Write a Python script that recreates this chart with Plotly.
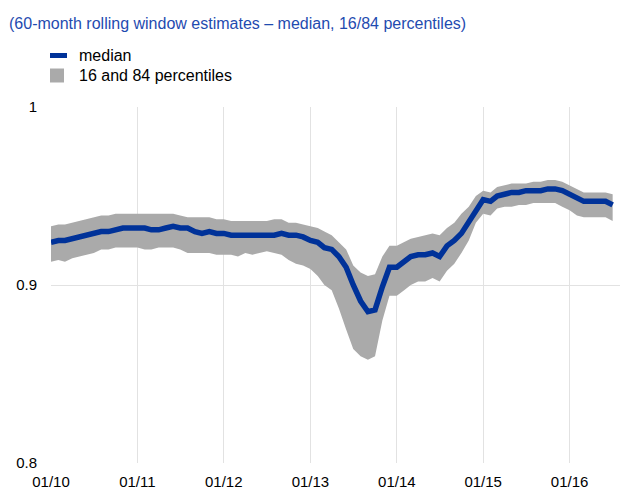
import plotly.graph_objects as go
import pandas as pd

months = pd.date_range("2010-01-01", periods=79, freq="MS").strftime("%Y-%m-%d").tolist()

median = [0.924, 0.925, 0.925, 0.926, 0.927, 0.928, 0.929, 0.930, 0.930, 0.931, 0.932, 0.932,
          0.932, 0.932, 0.931, 0.931, 0.932, 0.933, 0.932, 0.932, 0.930, 0.929, 0.930, 0.929,
          0.929, 0.928, 0.928, 0.928, 0.928, 0.928, 0.928, 0.928, 0.929, 0.928, 0.928, 0.927,
          0.925, 0.924, 0.921, 0.920, 0.916, 0.910, 0.900, 0.891, 0.885, 0.886, 0.899, 0.910,
          0.910, 0.913, 0.916, 0.917, 0.917, 0.918, 0.916, 0.922, 0.925, 0.929, 0.935, 0.941,
          0.948, 0.947, 0.950, 0.951, 0.952, 0.952, 0.953, 0.953, 0.953, 0.954, 0.954, 0.953,
          0.951, 0.949, 0.947, 0.947, 0.947, 0.947, 0.945]

upper = [0.933, 0.934, 0.934, 0.935, 0.936, 0.937, 0.938, 0.939, 0.939, 0.940, 0.940, 0.940,
         0.940, 0.940, 0.940, 0.940, 0.940, 0.940, 0.939, 0.938, 0.938, 0.938, 0.938, 0.937,
         0.937, 0.936, 0.936, 0.936, 0.936, 0.936, 0.936, 0.937, 0.937, 0.935, 0.935, 0.934,
         0.933, 0.932, 0.930, 0.928, 0.924, 0.920, 0.911, 0.907, 0.905, 0.906, 0.916, 0.922,
         0.922, 0.924, 0.926, 0.927, 0.928, 0.929, 0.928, 0.932, 0.935, 0.940, 0.944, 0.950,
         0.953, 0.952, 0.955, 0.956, 0.957, 0.957, 0.957, 0.958, 0.958, 0.959, 0.959, 0.958,
         0.956, 0.954, 0.952, 0.952, 0.952, 0.952, 0.951]

lower = [0.913, 0.914, 0.913, 0.915, 0.916, 0.917, 0.918, 0.920, 0.920, 0.921, 0.921, 0.921,
         0.921, 0.920, 0.920, 0.921, 0.921, 0.921, 0.920, 0.918, 0.918, 0.918, 0.918, 0.917,
         0.917, 0.917, 0.916, 0.918, 0.917, 0.918, 0.919, 0.918, 0.917, 0.914, 0.912, 0.911,
         0.909, 0.905, 0.900, 0.897, 0.887, 0.875, 0.864, 0.860, 0.858, 0.860, 0.880, 0.894,
         0.894, 0.897, 0.900, 0.902, 0.902, 0.904, 0.902, 0.908, 0.912, 0.918, 0.925, 0.935,
         0.940, 0.939, 0.943, 0.944, 0.944, 0.945, 0.945, 0.946, 0.946, 0.946, 0.946, 0.944,
         0.942, 0.939, 0.938, 0.938, 0.938, 0.938, 0.936]

tick_vals = ["2010-01-01", "2011-01-01", "2012-01-01", "2013-01-01", "2014-01-01", "2015-01-01", "2016-01-01"]
tick_text = ["01/10", "01/11", "01/12", "01/13", "01/14", "01/15", "01/16"]

title_text = "(60-month rolling window estimates – median, 16/84 percentiles)"
legend_median = "median"
legend_band = "16 and 84 percentiles"

BLUE = "#003299"
GREY = "#aaaaaa"
FONT = "Liberation Sans, Arial, sans-serif"
W, H = 622, 504

fig = go.Figure()
fig.add_trace(go.Scatter(x=months, y=lower, mode="lines", line=dict(width=0, color=GREY),
                         showlegend=False, hoverinfo="skip"))
fig.add_trace(go.Scatter(x=months, y=upper, mode="lines", line=dict(width=0, color=GREY),
                         fill="tonexty", fillcolor=GREY, name=legend_band, showlegend=False))
fig.add_trace(go.Scatter(x=months, y=median, mode="lines", line=dict(width=5.5, color=BLUE),
                         name=legend_median, showlegend=False))

# manual legend (container pixel coordinates converted to paper fractions)
ml, mr, mt, mb = 51, 2, 107, 41
pw, ph = W - ml - mr, H - mt - mb


def px(x):
    return (x - ml) / pw


def py(y):
    return (H - mb - y) / ph


fig.add_shape(type="rect", xref="paper", yref="paper",
              x0=px(50), x1=px(67), y0=py(53), y1=py(58),
              fillcolor=BLUE, line=dict(width=0), layer="above")
fig.add_shape(type="rect", xref="paper", yref="paper",
              x0=px(50), x1=px(64), y0=py(68.5), y1=py(82.5),
              fillcolor=GREY, line=dict(width=0), layer="above")
fig.add_annotation(text=legend_median, xref="paper", yref="paper", x=px(77), y=py(55.5),
                   xanchor="left", yanchor="middle", showarrow=False,
                   font=dict(family=FONT, size=16, color="#000000"))
fig.add_annotation(text=legend_band, xref="paper", yref="paper", x=px(77), y=py(75.5),
                   xanchor="left", yanchor="middle", showarrow=False,
                   font=dict(family=FONT, size=16, color="#000000"))

fig.update_layout(
    width=W, height=H,
    margin=dict(l=ml, r=mr, t=mt, b=mb, autoexpand=False),
    paper_bgcolor="white", plot_bgcolor="white",
    font=dict(family=FONT, size=15, color="#000000"),
    title=dict(text=title_text, x=9 / W, xref="container", xanchor="left",
               y=1 - 23 / H, yref="container", yanchor="middle",
               font=dict(family=FONT, size=16, color="#1f4bb0")),
    showlegend=False,
    xaxis=dict(type="date", range=["2010-01-01", "2016-08-01"],
               tickvals=tick_vals, ticktext=tick_text,
               showgrid=True, gridcolor="#e2e2e2", gridwidth=1,
               showline=False, zeroline=False, ticks="", ticklabelstandoff=8),
    yaxis=dict(range=[0.8, 1.0], tickvals=[0.8, 0.9, 1.0], ticktext=["0.8", "0.9", "1"],
               showgrid=True, gridcolor="#e2e2e2", gridwidth=1,
               showline=False, zeroline=False, ticks="", ticklabelstandoff=13),
)

fig.write_html("out.html", config={"displayModeBar": False},
               post_script="document.body.style.margin='0px';document.body.style.overflow='hidden';")
